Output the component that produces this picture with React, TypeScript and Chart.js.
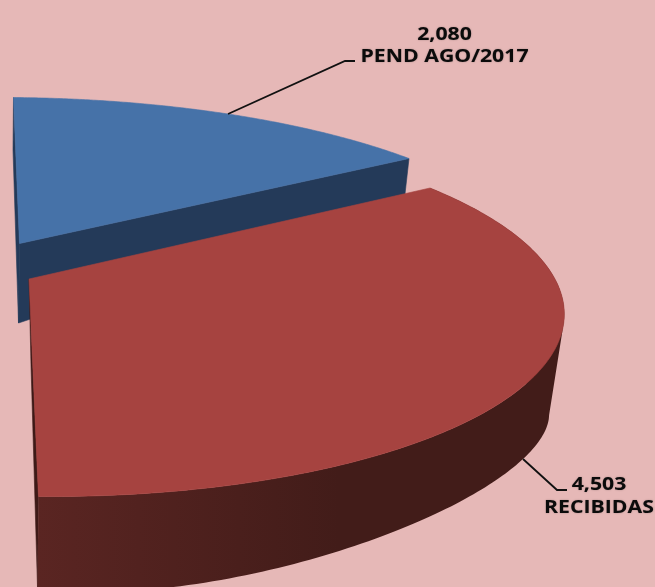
import React, { useEffect, useRef } from "react";
import { Chart, registerables } from "chart.js";

Chart.register(...registerables);

// Data
const categories = ["PEND AGO/2017", "RECIBIDAS"];
const values = [2080, 4503];
const topColors = ["#4672A8", "#A64340"];
const wallColors = ["#243A59", "#3E1A17"];

type P = [number, number];
const rad = (d: number) => (d * Math.PI) / 180;
const unit = (a: number): P => [Math.cos(a), Math.sin(a)];

// Perspective fit of each slice's plane: pie angle -> picture position.
const planes: {
  top: (s: number, e: number) => P[];
  topTo: P[];
  bottom: (s: number, e: number) => P[];
  bottomTo: P[];
  wallCentre: P;
}[] = [
  {
    top: (s, e) => [[0, 0], unit(s), unit(e), unit((s + e) / 2)],
    topTo: [[19.5, 243.5], [13.5, 97.5], [409, 158.5], [228, 114]],
    bottom: (s, e) => [[0, 0], unit(s), unit(e), unit((s + e) / 2)],
    bottomTo: [[18.5, 323], [13, 150], [405, 194], [228, 185]],
    wallCentre: [18.5, 323],
  },
  {
    top: (s, e) => [[0, 0], unit(s), unit(e), unit(0)],
    topTo: [[29, 279], [430, 188], [38.5, 496.5], [556, 281]],
    bottom: () => [unit(rad(90)), unit(rad(62)), unit(rad(28.4)), unit(rad(5))],
    bottomTo: [[37.5, 587], [305, 561], [523, 459], [549, 412]],
    wallCentre: [31, 365],
  },
];

function solve(A: number[][], b: number[]): number[] {
  const n = b.length;
  const M = A.map((r, i) => [...r, b[i]]);
  for (let c = 0; c < n; c++) {
    let p = c;
    for (let r = c + 1; r < n; r++) if (Math.abs(M[r][c]) > Math.abs(M[p][c])) p = r;
    [M[c], M[p]] = [M[p], M[c]];
    for (let r = 0; r < n; r++) {
      if (r === c) continue;
      const f = M[r][c] / M[c][c];
      for (let k = c; k <= n; k++) M[r][k] -= f * M[c][k];
    }
  }
  return M.map((r, i) => r[n] / r[i]);
}

function homography(src: P[], dst: P[]) {
  const A: number[][] = [];
  const b: number[] = [];
  src.forEach(([x, y], i) => {
    const [u, v] = dst[i];
    A.push([x, y, 1, 0, 0, 0, -x * u, -y * u]);
    b.push(u);
    A.push([0, 0, 0, x, y, 1, -x * v, -y * v]);
    b.push(v);
  });
  const h = solve(A, b);
  return (x: number, y: number): P => {
    const w = h[6] * x + h[7] * y + 1;
    return [(h[0] * x + h[1] * y + h[2]) / w, (h[3] * x + h[4] * y + h[5]) / w];
  };
}

function paint(ctx: CanvasRenderingContext2D, fill: string | CanvasGradient) {
  ctx.fillStyle = fill;
  ctx.strokeStyle = fill;
  ctx.lineWidth = 0.6;
  ctx.fill();
  ctx.stroke();
}

function trace(ctx: CanvasRenderingContext2D, pts: P[]) {
  pts.forEach((p, i) => (i ? ctx.lineTo(p[0], p[1]) : ctx.moveTo(p[0], p[1])));
  ctx.closePath();
}

function poly(ctx: CanvasRenderingContext2D, pts: P[], fill: string | CanvasGradient) {
  ctx.beginPath();
  trace(ctx, pts);
  paint(ctx, fill);
}

function area(q: P[]) {
  let a = 0;
  q.forEach((p, i) => {
    const n = q[(i + 1) % q.length];
    a += p[0] * n[1] - n[0] * p[1];
  });
  return a;
}

const pie3d = {
  id: "pie3d",
  beforeDatasetDraw(chart: any) {
    const ctx: CanvasRenderingContext2D = chart.ctx;
    const arcs = chart.getDatasetMeta(0).data;
    arcs.forEach((arc: any, i: number) => {
      const s = arc.startAngle;
      const e = arc.endAngle;
      const pl = planes[i];
      const T = homography(pl.top(s, e), pl.topTo);
      const B = homography(pl.bottom(s, e), pl.bottomTo);
      const N = 160;
      const ring = (f: (x: number, y: number) => P) =>
        Array.from({ length: N + 1 }, (_, k) => {
          const [x, y] = unit(s + ((e - s) * k) / N);
          return f(x, y);
        });
      const rt = ring(T);
      const rb = ring(B);
      const ct = T(0, 0);
      const cb = pl.wallCentre;
      if (i === 0) {
        poly(ctx, [ct, rt[0], rb[0], cb], wallColors[0]);
        poly(ctx, [ct, rt[N], rb[N], cb], wallColors[0]);
      } else {
        poly(ctx, [ct, rt[N], rb[N], cb], wallColors[1]);
        const g = ctx.createLinearGradient(38, 0, 340, 0);
        g.addColorStop(0, "rgb(90,37,34)");
        g.addColorStop(1, "rgb(66,28,25)");
        ctx.beginPath();
        for (let k = 0; k < N; k++) {
          const q: P[] = [rt[k], rt[k + 1], rb[k + 1], rb[k]];
          trace(ctx, area(q) < 0 ? q.reverse() : q);
        }
        ctx.fillStyle = g;
        ctx.fill();
      }
      poly(ctx, [ct, ...rt], topColors[i]);
    });
    return false;
  },
  afterDraw(chart: any) {
    const ctx: CanvasRenderingContext2D = chart.ctx;
    ctx.save();
    const fmt = (v: number) => v.toLocaleString("en-US");
    const leaders: P[][] = [
      [[228, 114], [345, 61], [355, 61]],
      [[523, 459], [557, 490], [567, 490]],
    ];
    const labelPos: { x: number; y1: number; y2: number }[] = [
      { x: 444.5, y1: 35, y2: 57.5 },
      { x: 599, y1: 485.5, y2: 508 },
    ];
    ctx.strokeStyle = "#111";
    ctx.lineWidth = 1.8;
    leaders.forEach((l) => {
      ctx.beginPath();
      l.forEach((p, i) => (i ? ctx.lineTo(p[0], p[1]) : ctx.moveTo(p[0], p[1])));
      ctx.stroke();
    });
    ctx.fillStyle = "#0b0b0b";
    ctx.shadowColor = "rgba(0,0,0,0.35)";
    ctx.shadowBlur = 1.5;
    ctx.textAlign = "center";
    ctx.textBaseline = "middle";
    ctx.font = 'bold 17px "Open Sans"';
    const drawText = (t: string, x: number, y: number) => {
      ctx.save();
      ctx.translate(x, y);
      ctx.scale(1.25, 1);
      ctx.fillText(t, 0, 0);
      ctx.restore();
    };
    categories.forEach((c, i) => {
      const p = labelPos[i];
      drawText(fmt(values[i]), p.x, p.y1);
      drawText(c, p.x, p.y2);
    });
    ctx.restore();
  },
};

export default function App() {
  const ref = useRef<HTMLCanvasElement>(null);
  useEffect(() => {
    const chart = new Chart(ref.current!, {
      type: "pie",
      data: {
        labels: categories,
        datasets: [{ data: values, backgroundColor: topColors, borderWidth: 0 }],
      },
      options: {
        responsive: false,
        animation: false,
        rotation: 0,
        circumference: 180,
        plugins: { legend: { display: false }, tooltip: { enabled: false } },
      },
      plugins: [pie3d],
    } as any);
    return () => chart.destroy();
  }, []);
  return (
    <div style={{ position: "fixed", inset: 0, background: "#E6B8B7" }}>
      <canvas ref={ref} width={655} height={587} style={{ display: "block" }} />
    </div>
  );
}
